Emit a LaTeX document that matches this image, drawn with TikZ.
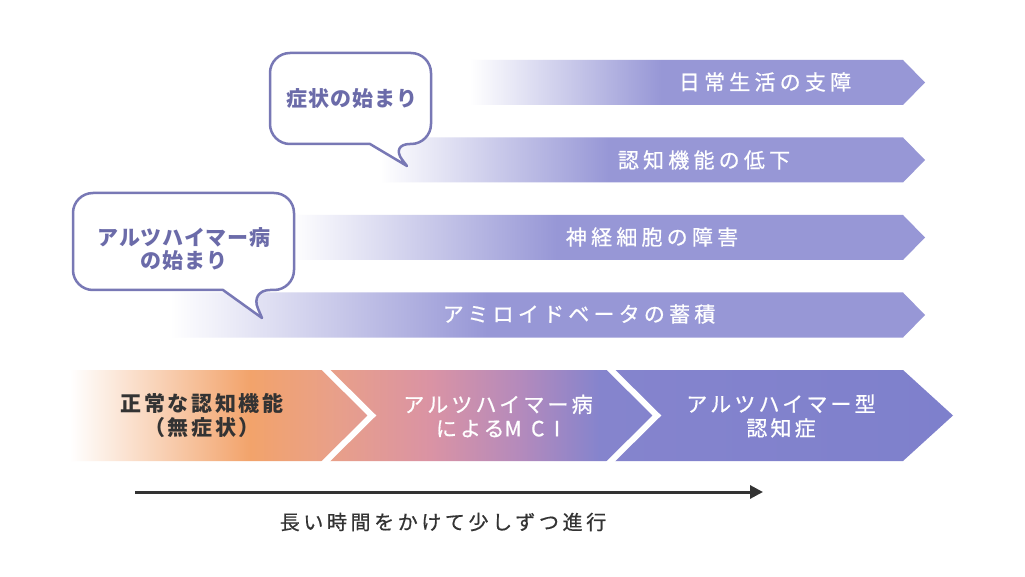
\documentclass[tikz,border=0pt]{standalone}
\usepackage{fontspec}
\usetikzlibrary{arrows.meta}
\newfontfamily\jpA[LetterSpace=20,FakeBold=0.7]{Noto Sans CJK JP}
\newfontfamily\jpB[LetterSpace=15,FakeBold=0.7]{Noto Sans CJK JP}
\newfontfamily\jpBB[LetterSpace=12]{Noto Sans CJK JP}
\newfontfamily\jpC[LetterSpace=18,FakeBold=0.6]{Noto Sans CJK JP}
\newfontfamily\jpD[LetterSpace=4]{Noto Sans CJK JP}
\newfontfamily\jpM[LetterSpace=45,FakeBold=0.7]{Noto Sans CJK JP}
\definecolor{arrowc}{HTML}{9797D6}
\definecolor{bubline}{HTML}{7878B5}
\definecolor{bubtext}{HTML}{6B6BA9}
\definecolor{darkg}{HTML}{333333}
\definecolor{c1}{HTML}{F2A36B}
\definecolor{c2}{HTML}{E9A088}
\definecolor{c3}{HTML}{DA93A4}
\definecolor{c4}{HTML}{B48ABC}
\definecolor{c5}{HTML}{8584CD}
\definecolor{c6}{HTML}{7E80CC}
\pgfdeclarehorizontalshading{topfade}{100bp}{color(0bp)=(white); color(25bp)=(white); color(46bp)=(arrowc); color(100bp)=(arrowc)}
\pgfdeclarehorizontalshading{bandshade}{100bp}{color(0bp)=(white); color(25bp)=(white); color(35.2bp)=(c1); color(39.7bp)=(c2); color(45.4bp)=(c3); color(50.5bp)=(c4); color(55bp)=(c5); color(75bp)=(c6); color(100bp)=(c6)}
\tikzset{
  toptxt/.style={text=white, font=\jpA\fontsize{21}{24}\selectfont, inner sep=0pt},
  bubtxt/.style={text=bubtext, font=\jpD\bfseries\fontsize{21}{23}\selectfont, align=center, inner sep=0pt},
  stagetxt/.style={font=\jpB\fontsize{21}{24}\selectfont, align=center, inner sep=0pt},
  progtxt/.style={text=darkg, font=\jpC\fontsize{20}{23}\selectfont, inner sep=0pt},
  bubble/.style={draw=bubline, fill=white, line width=2.5pt, line join=round},
  sep/.style={draw=white, line width=6pt, line join=miter},
}
\begin{document}
\begin{tikzpicture}[x=1pt,y=-1pt]
\useasboundingbox (0,0) rectangle (1025,577);
\fill[white] (0,0) rectangle (1025,577);

% top arrows
\shade[shading=topfade] (470,60) -- (903,60) -- (925,82.5) -- (903,105) -- (470,105) -- cycle;
\shade[shading=topfade] (380,137.5) -- (903,137.5) -- (925,160) -- (903,182.5) -- (380,182.5) -- cycle;
\shade[shading=topfade] (290,215) -- (903,215) -- (925,237.5) -- (903,260) -- (290,260) -- cycle;
\shade[shading=topfade] (170,292.5) -- (903,292.5) -- (925,315) -- (903,337.5) -- (170,337.5) -- cycle;

\node[toptxt] (a1) at (765,82) {日常生活の支障};
\node[toptxt] (a2) at (704,160) {認知機能の低下};
\node[toptxt] (a3) at (652,237) {神経細胞の障害};
\node[toptxt] (a4) at (579,314) {アミロイドベータの蓄積};

% bubbles
\draw[bubble] (370,144) [rounded corners=20pt] -- (270,144) -- (270,53) -- (431,53) -- (431,144) -- (390,144) [sharp corners] -- (407,166) -- cycle;
\node[bubtxt] (b1) at (352,99) {症状の始まり};

\draw[bubble] (223,290) [rounded corners=20pt] -- (73,290) -- (73,193) -- (294,193) -- (294,290) -- (250,290) [sharp corners] -- (262,318) -- cycle;
\node[bubtxt] (b2) at (184,249) {アルツハイマー病\\の始まり};

% bottom band
\shade[shading=bandshade] (70,370) -- (903,370) -- (953,415.5) -- (903,461) -- (70,461) -- cycle;
\draw[sep] (322,366) -- (372,415.5) -- (322,465);
\draw[sep] (607,366) -- (657,415.5) -- (607,465);

\node[stagetxt, text=darkg, font=\jpBB\bfseries\fontsize{21}{24}\selectfont] (s1) at (202,416) {正常な認知機能\\（無症状）};
\node[stagetxt, text=white] (s2) at (498,416) {アルツハイマー病\\による{\jpM MCI}};
\node[stagetxt, text=white] (s3) at (781,416) {アルツハイマー型\\認知症};

% progress arrow
\coordinate (p0) at (135,492);
\coordinate (p1) at (763,492);
\draw[darkg, line width=3pt, -{Triangle[length=13pt,width=13pt]}] (p0) -- (p1);
\node[progtxt] (pt) at (443,522) {長い時間をかけて少しずつ進行};
\end{tikzpicture}
\end{document}
